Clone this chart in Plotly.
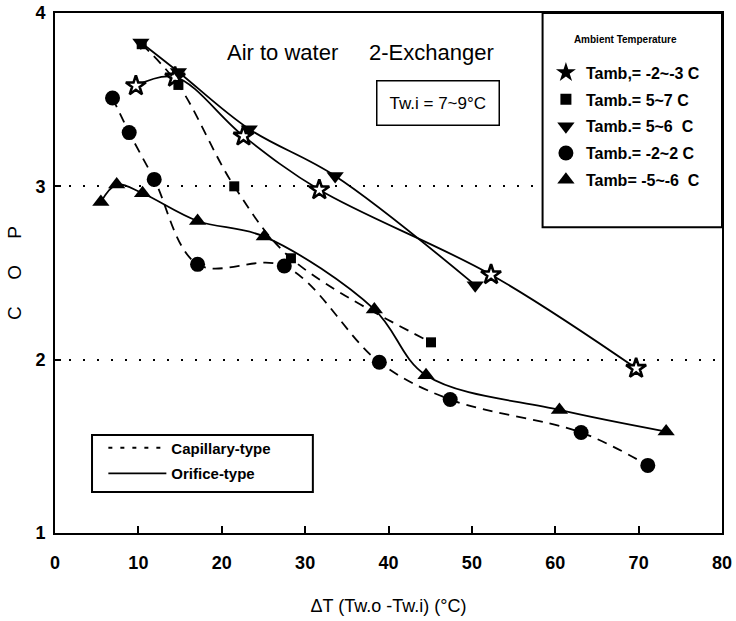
import plotly.graph_objects as go

# ---- data ----
x_tick_vals = [0, 10, 20, 30, 40, 50, 60, 70, 80]
y_tick_vals = [1, 2, 3, 4]

star_x = [9.7, 14.4, 22.6, 31.7, 52.3, 69.7]
star_y = [3.58, 3.63, 3.29, 2.98, 2.49, 1.95]

sq_x = [10.4, 14.8, 21.5, 28.3, 45.1]
sq_y = [3.82, 3.585, 3.00, 2.585, 2.10]

inv_x = [10.3, 14.8, 23.3, 33.6, 50.4]
inv_y = [3.83, 3.66, 3.33, 3.06, 2.43]

circ_x = [6.9, 8.9, 11.9, 17.1, 27.5, 38.9, 47.4, 63.1, 71.1]
circ_y = [3.51, 3.31, 3.04, 2.55, 2.54, 1.985, 1.77, 1.58, 1.39]

tri_x = [5.5, 7.4, 10.5, 17.1, 25.1, 38.3, 44.5, 60.5, 73.3]
tri_y = [2.91, 3.01, 2.96, 2.80, 2.71, 2.29, 1.91, 1.71, 1.585]

legend_names = ["Tamb,= -2~-3 C", "Tamb.= 5~7 C", "Tamb.= 5~6\u00a0\u00a0C",
                "Tamb.= -2~2 C", "Tamb= -5~-6\u00a0\u00a0C"]
line_type_names = ["Capillary-type", "Orifice-type"]

FONT = "Liberation Sans, Arial, sans-serif"
DASH = "10px,7px"

fig = go.Figure()

series = [
    (star_x, star_y, "star", "solid", 15, "white", 2.6),
    (sq_x, sq_y, "square", DASH, 10, "black", 0),
    (inv_x, inv_y, "triangle-down", "solid", 15, "black", 0),
    (circ_x, circ_y, "circle", DASH, 15, "black", 0),
    (tri_x, tri_y, "triangle-up", "solid", 15, "black", 0),
]
legend_symbols = ["star", "square", "triangle-down", "circle", "triangle-up"]

for (xs, ys, sym, dash, size, fill, lw) in series:
    fig.add_trace(go.Scatter(
        x=xs, y=ys, mode="lines+markers", showlegend=False,
        line=dict(color="black", width=1.8, dash=dash, shape="spline", smoothing=1.0),
        marker=dict(symbol=sym, size=size, color=fill,
                    line=dict(color="black", width=lw)),
    ))

# legend entries (marker-only) for ambient temperature
for i, (name, sym) in enumerate(zip(legend_names, legend_symbols)):
    fig.add_trace(go.Scatter(
        x=[None], y=[None], mode="markers", name=name, legend="legend",
        legendgroup=f"g{i}",
        marker=dict(symbol=sym, size=15 if sym != "square" else 11, color="black"),
    ))

# legend entries for line types
fig.add_trace(go.Scatter(x=[None], y=[None], mode="lines", name=line_type_names[0],
                         legend="legend2", legendgroup="lt0",
                         line=dict(color="black", width=2, dash="4px,8px")))
fig.add_trace(go.Scatter(x=[None], y=[None], mode="lines", name=line_type_names[1],
                         legend="legend2", legendgroup="lt1",
                         line=dict(color="black", width=1.8)))

fig.update_layout(
    width=736, height=621,
    margin=dict(l=55, r=14, t=13, b=88),
    paper_bgcolor="white", plot_bgcolor="white",
    font=dict(family=FONT, color="black"),
    xaxis=dict(range=[0, 80], tickvals=x_tick_vals, showgrid=False, zeroline=False,
               automargin=False,
               showline=True, linecolor="black", linewidth=2, mirror=True,
               ticks="inside", ticklen=7, tickwidth=1.5, tickcolor="black",
               tickfont=dict(size=18, weight="bold", family=FONT),
               ticklabelstandoff=12,
               title=dict(text="\u0394T (Tw.o -Tw.i) (\u00b0C)", font=dict(size=18, family=FONT),
                          standoff=28)),
    yaxis=dict(range=[1, 4], tickvals=y_tick_vals, showgrid=True, gridcolor="black",
               gridwidth=2, griddash="2px,12px", zeroline=False,
               automargin=False,
               showline=True, linecolor="black", linewidth=2, mirror=True,
               ticks="inside", ticklen=6, tickwidth=1.5, tickcolor="black",
               tickfont=dict(size=18, weight="bold", family=FONT),
               ticklabelstandoff=4,
               title=dict(text="C\u00a0\u00a0\u00a0\u00a0\u00a0O\u00a0\u00a0\u00a0\u00a0\u00a0P",
                          font=dict(size=19, family=FONT), standoff=9)),
    legend=dict(x=0.736, y=0.968, xanchor="left", yanchor="top",
                bgcolor="rgba(0,0,0,0)", borderwidth=0,
                title=dict(text="Ambient Temperature<br> ", side="top center",
                           font=dict(size=10, weight="bold", family=FONT)),
                font=dict(size=16, weight="bold", family=FONT),
                tracegroupgap=3, itemsizing="trace", itemwidth=30),
    legend2=dict(x=0.0725, y=0.195, xanchor="left", yanchor="top",
                 bgcolor="rgba(0,0,0,0)", borderwidth=0,
                 font=dict(size=15, weight="bold", family=FONT),
                 tracegroupgap=3, itemwidth=58),
    shapes=[
        dict(type="rect", xref="paper", yref="paper", x0=0.731, x1=1.0, y0=0.588, y1=1.0,
             line=dict(color="black", width=2), fillcolor="white", layer="above"),
        dict(type="rect", xref="paper", yref="paper", x0=0.0555, x1=0.3866, y0=0.0788, y1=0.1885,
             line=dict(color="black", width=2), fillcolor="white", layer="above"),
    ],
    annotations=[
        dict(x=27.3, y=3.77, xref="x", yref="y", text="Air to water", showarrow=False,
             font=dict(size=22, family=FONT)),
        dict(x=45.2, y=3.77, xref="x", yref="y", text="2-Exchanger", showarrow=False,
             font=dict(size=22, family=FONT)),
        dict(x=45.9, y=3.48, xref="x", yref="y", text="Tw.i = 7~9\u00b0C", showarrow=False,
             font=dict(size=17, family=FONT), bordercolor="black", borderwidth=1.5,
             borderpad=12, bgcolor="white"),
    ],
)

fig.write_html("out.html", config={"displayModeBar": False},
               post_script="document.body.style.margin='0';")
